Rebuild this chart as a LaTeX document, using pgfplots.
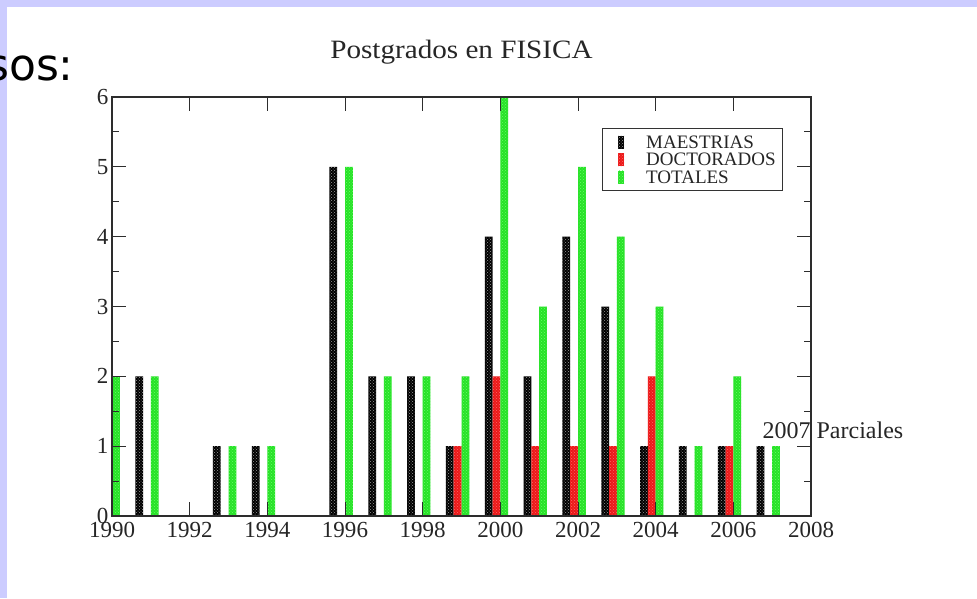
\documentclass[border=0pt]{standalone}
\usepackage{pgfplots}
\pgfplotsset{compat=1.18}
\usepackage{fontspec}
\setmainfont{Liberation Serif}
\newfontfamily\dejavu{DejaVu Sans}
\newfontfamily\titlefont[FakeStretch=1.1]{Liberation Serif}
\usetikzlibrary{patterns}
\definecolor{lav}{RGB}{204,204,255}
\definecolor{bargreen}{RGB}{40,225,40}
\definecolor{barred}{RGB}{235,25,25}
\definecolor{axisgray}{RGB}{45,45,45}
\pgfplotsset{myleg/.style={legend image code/.code={%
  \node[inner sep=0pt, minimum width=37pt, minimum height=1pt, anchor=west] at (0pt,0pt) {};
  \path[##1,draw=none] (10.3pt,-6.5pt) rectangle (16.3pt,6.5pt);}}}
\begin{document}
\begin{tikzpicture}
\useasboundingbox (0,0) rectangle (977pt,-598pt);
\begin{scope}
\clip (0,0) rectangle (977pt,-598pt);
\fill[lav] (0,0) rectangle (977pt,-598pt);
\fill[white] (7pt,-7pt) rectangle (977pt,-598pt);
\node[anchor=base west, inner sep=0pt, font=\dejavu\fontsize{44}{44}\selectfont] at (-14pt,-80pt) {sos:};
\node[anchor=base, inner sep=0pt, font=\titlefont\fontsize{26.5}{26.5}\selectfont, text=black!85] at (461.5pt,-58.3pt) {Postgrados en FISICA};
\end{scope}
\begin{axis}[
  at={(112pt,-516pt)}, anchor=south west, scale only axis,
  width=699pt, height=419pt,
  xmin=1990, xmax=2008, ymin=0, ymax=6,
  xtick={1990,1992,...,2008}, minor x tick num=1,
  ytick={0,1,2,3,4,5,6}, minor y tick num=1,
  tick align=inside, major tick length=14pt, minor tick length=7pt,
  axis line style={axisgray, line width=1.1pt},
  tick style={axisgray, line width=1pt},
  tick label style={font=\fontsize{23}{23}\selectfont, text=black!85},
  xticklabel style={yshift=-2.5pt},
  /pgf/number format/.cd, 1000 sep={}, assume math mode=true, /pgfplots/.cd,
  axis on top, clip mode=individual,
  legend cell align=left,
  legend style={at={(0.7006,0.9253)}, anchor=north west, draw=black!80,
    line width=1pt, fill=white, inner sep=6pt,
    font=\fontsize{19}{19}\selectfont, text=black!85,
    nodes={inner sep=1pt, text height=12.6pt, text depth=0pt},
    row sep=2.9pt, column sep=0pt},
]
\addplot[ybar, myleg, bar width=0.2, bar shift=-0.3, fill=black, draw=none,
  postaction={pattern=crosshatch dots, pattern color=black!40}]
  coordinates {(1991,2) (1993,1) (1994,1) (1996,5) (1997,2) (1998,2) (1999,1)
  (2000,4) (2001,2) (2002,4) (2003,3) (2004,1) (2005,1) (2006,1) (2007,1)};
\addplot[ybar, myleg, bar width=0.2, bar shift=-0.1, fill=barred, draw=none,
  postaction={pattern=crosshatch dots, pattern color=red!60!white}]
  coordinates {(1999,1) (2000,2) (2001,1) (2002,1) (2003,1) (2004,2) (2006,1)};
\addplot[ybar, myleg, bar width=0.2, bar shift=0.1, fill=bargreen, draw=none,
  postaction={pattern=crosshatch dots, pattern color=green!60!white}]
  coordinates {(1990,2) (1991,2) (1993,1) (1994,1) (1996,5) (1997,2) (1998,2)
  (1999,2) (2000,6) (2001,3) (2002,5) (2003,4) (2004,3) (2005,1) (2006,2) (2007,1)};
\legend{MAESTRIAS, DOCTORADOS, TOTALES}
\node[anchor=base west, inner sep=0pt, font=\fontsize{24}{24}\selectfont, text=black!85]
  at (axis cs:2006.75,1.11) {2007 Parciales};
\end{axis}
\end{tikzpicture}
\end{document}
